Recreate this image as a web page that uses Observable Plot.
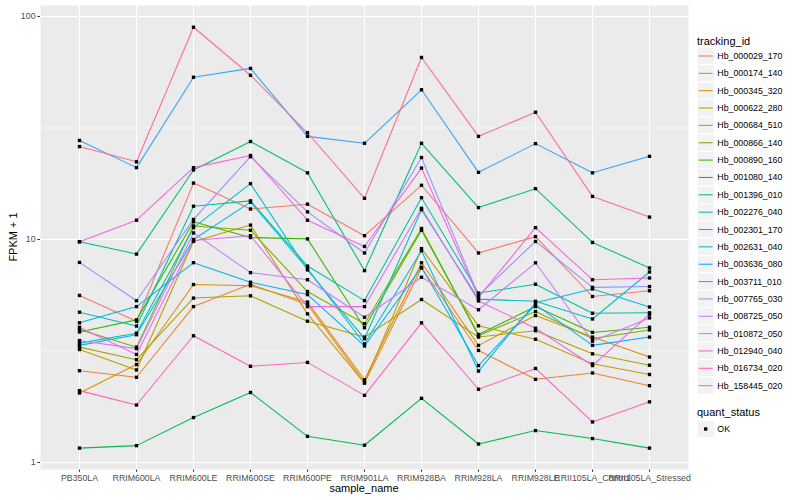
<!DOCTYPE html>
<html><head><meta charset="utf-8">
<script src="https://cdn.jsdelivr.net/npm/d3@7"></script>
<script src="https://cdn.jsdelivr.net/npm/@observablehq/plot@0.6"></script>
<style>
body{margin:0;background:#fff;font-family:"Liberation Sans",Arial,Helvetica,sans-serif;}
#wrap{position:relative;width:800px;height:500px;overflow:hidden;}
#wrap svg{position:absolute;left:0;top:0;}
.ttl{position:absolute;font-size:11px;color:#000;white-space:nowrap;}
</style></head><body><div id="wrap"></div>
<script>
const samples = ["PB350LA","RRIM600LA","RRIM600LE","RRIM600SE","RRIM600PE","RRIM901LA","RRIM928BA","RRIM928LA","RRIM928LE","RRII105LA_Control","RRII105LA_Stressed"];
const trackingIds = ["Hb_000029_170","Hb_000174_140","Hb_000345_320","Hb_000622_280","Hb_000684_510","Hb_000866_140","Hb_000890_160","Hb_001080_140","Hb_001396_010","Hb_002276_040","Hb_002301_170","Hb_002631_040","Hb_003636_080","Hb_003711_010","Hb_007765_030","Hb_008725_050","Hb_010872_050","Hb_012940_040","Hb_016734_020","Hb_158445_020"];
const palette = ["#F8766D","#EA8331","#D89000","#C09B00","#A3A500","#7CAE00","#39B600","#00BB4E","#00BF7D","#00C1A3","#00BFC4","#00BAE0","#00B0F6","#35A2FF","#9590FF","#C77CFF","#E76BF3","#FA62DB","#FF62BC","#FF6C91"];
const yTicks = [1, 10, 100];

// FPKM + 1 per sample (order of samples)
const hb_000029_170 = [5.61, 4.30, 17.9, 13.7, 14.4, 10.4, 17.5, 8.7, 10.3, 5.55, 5.89];
const hb_000174_140 = [2.58, 2.41, 5.0, 6.3, 5.11, 2.28, 7.45, 3.18, 2.36, 2.52, 2.21];
const hb_000345_320 = [2.05, 2.75, 6.28, 6.2, 5.24, 2.35, 7.86, 3.35, 4.56, 3.65, 2.97];
const hb_000622_280 = [3.21, 2.60, 9.8, 11.6, 4.64, 2.27, 9.1, 4.1, 3.57, 2.77, 2.48];
const hb_000684_510 = [3.29, 2.89, 5.46, 5.59, 4.30, 3.65, 5.38, 3.65, 3.9, 3.07, 2.73];
const hb_000866_140 = [3.95, 3.29, 11.5, 11.0, 5.84, 4.19, 11.2, 3.7, 4.75, 3.6, 3.93];
const hb_000890_160 = [3.85, 4.36, 12.0, 10.2, 10.06, 4.02, 11.0, 3.75, 5.0, 3.83, 4.04];
const hb_001080_140 = [1.16, 1.19, 1.59, 2.06, 1.31, 1.195, 1.94, 1.21, 1.39, 1.28, 1.16];
const hb_001396_010 = [9.77, 8.6, 20.5, 27.5, 19.9, 7.25, 27.0, 13.9, 16.9, 9.7, 7.45];
const hb_002276_040 = [4.72, 4.09, 14.1, 14.9, 7.6, 5.32, 15.4, 5.75, 6.3, 4.67, 4.69];
const hb_002301_170 = [3.43, 3.80, 11.3, 17.8, 7.3, 3.59, 13.6, 5.4, 5.28, 4.4, 7.15];
const hb_002631_040 = [3.35, 3.74, 10.0, 14.7, 7.4, 3.4, 8.9, 2.57, 5.2, 6.0, 4.98];
const hb_003636_080 = [4.23, 5.0, 7.87, 6.43, 5.66, 3.33, 7.5, 2.72, 5.1, 3.35, 3.65];
const hb_003711_010 = [27.8, 21.0, 53.4, 58.5, 29.0, 27.0, 46.9, 20.0, 26.9, 19.9, 23.6];
const hb_007765_030 = [7.89, 5.31, 12.3, 23.5, 13.3, 8.7, 23.3, 5.6, 9.8, 6.1, 6.15];
const hb_008725_050 = [3.52, 3.24, 10.7, 7.1, 6.6, 4.48, 6.77, 4.84, 7.86, 3.5, 4.45];
const hb_010872_050 = [4.04, 3.05, 9.9, 10.4, 5.0, 5.0, 13.8, 5.3, 4.0, 2.72, 4.62];
const hb_012940_040 = [9.77, 12.2, 21.0, 23.8, 12.2, 9.3, 20.9, 5.5, 11.3, 6.6, 6.72];
const hb_016734_020 = [2.10, 1.81, 3.70, 2.70, 2.81, 2.0, 4.23, 2.13, 2.64, 1.52, 1.87];
const hb_158445_020 = [26.1, 22.3, 89.5, 54.5, 30.1, 15.3, 65.5, 29.0, 37.2, 15.6, 12.6];

const seriesValues = [hb_000029_170, hb_000174_140, hb_000345_320, hb_000622_280, hb_000684_510, hb_000866_140, hb_000890_160, hb_001080_140, hb_001396_010, hb_002276_040, hb_002301_170, hb_002631_040, hb_003636_080, hb_003711_010, hb_007765_030, hb_008725_050, hb_010872_050, hb_012940_040, hb_016734_020, hb_158445_020];

const rows = [];
trackingIds.forEach((id, i) => seriesValues[i].forEach((v, j) => rows.push({id, sample: samples[j], value: v, status: "OK"})));

const W = 800, H = 500;
const chart = Plot.plot({
  width: W, height: H,
  marginLeft: 40, marginRight: 112, marginTop: 5, marginBottom: 31,
  style: {fontSize: "8.8px", fontFamily: '"Liberation Sans",Arial,Helvetica,sans-serif', color: "#4D4D4D", background: "transparent"},
  x: {type: "point", domain: samples, padding: 0.6, tickSize: 2.75, tickPadding: 2.2, label: null},
  y: {type: "log", domain: [0.93, 112], ticks: yTicks, tickFormat: d => String(d), tickSize: 2.75, tickPadding: 2.2, label: null},
  color: {domain: trackingIds, range: palette},
  marks: [
    Plot.frame({fill: "#EBEBEB", stroke: null}),
    Plot.ruleY([Math.sqrt(10), Math.sqrt(1000)], {stroke: "white", strokeWidth: 0.53}),
    Plot.ruleY(yTicks, {stroke: "white", strokeWidth: 1.07}),
    Plot.ruleX(samples, {stroke: "white", strokeWidth: 1.07}),
    Plot.line(rows, {x: "sample", y: "value", z: "id", stroke: "id", strokeWidth: 1.07}),
    Plot.dot(rows, {x: "sample", y: "value", symbol: "square", r: 1.9, fill: "black", stroke: null})
  ]
});
const wrap = document.getElementById("wrap");
wrap.appendChild(chart);
d3.select(chart).selectAll('[aria-label="x-axis tick"] path, [aria-label="y-axis tick"] path').attr("stroke", "#333333");

// axis titles
const yt = document.createElement("div");
yt.className = "ttl"; yt.textContent = "FPKM + 1";
yt.style.left = "13px"; yt.style.top = "237px";
yt.style.transform = "translate(-50%,-50%) rotate(-90deg)";
wrap.appendChild(yt);
const xt = document.createElement("div");
xt.className = "ttl"; xt.textContent = "sample_name";
xt.style.left = "364px"; xt.style.top = "488px";
xt.style.transform = "translate(-50%,-50%)";
wrap.appendChild(xt);

// legend
const lg = d3.select(wrap).append("svg").attr("width", W).attr("height", H)
  .style("font-family", '"Liberation Sans",Arial,Helvetica,sans-serif');
const kx = 697, ks = 17.35, k0 = 56;
lg.append("text").attr("x", kx).attr("y", 41).attr("dominant-baseline", "central")
  .attr("font-size", 11).attr("fill", "#000").text("tracking_id");
trackingIds.forEach((id, i) => {
  const cy = k0 + i * ks;
  lg.append("rect").attr("x", kx).attr("y", cy - ks / 2).attr("width", ks).attr("height", ks)
    .attr("fill", "#F2F2F2").attr("stroke", "white").attr("stroke-width", 1);
  lg.append("line").attr("x1", kx + 1.7).attr("x2", kx + ks - 1.7).attr("y1", cy).attr("y2", cy)
    .attr("stroke", palette[i]).attr("stroke-width", 1.07);
  lg.append("text").attr("x", kx + ks + 3).attr("y", cy).attr("dominant-baseline", "central")
    .attr("font-size", 8.8).attr("fill", "#000").text(id);
});
lg.append("text").attr("x", kx).attr("y", 412).attr("dominant-baseline", "central")
  .attr("font-size", 11).attr("fill", "#000").text("quant_status");
lg.append("rect").attr("x", kx).attr("y", 429 - ks / 2).attr("width", ks).attr("height", ks)
  .attr("fill", "#F2F2F2").attr("stroke", "white");
lg.append("rect").attr("x", kx + ks / 2 - 1.7).attr("y", 429 - 1.7).attr("width", 3.4).attr("height", 3.4).attr("fill", "black");
lg.append("text").attr("x", kx + ks + 3).attr("y", 429).attr("dominant-baseline", "central")
  .attr("font-size", 8.8).attr("fill", "#000").text("OK");
</script></body></html>
